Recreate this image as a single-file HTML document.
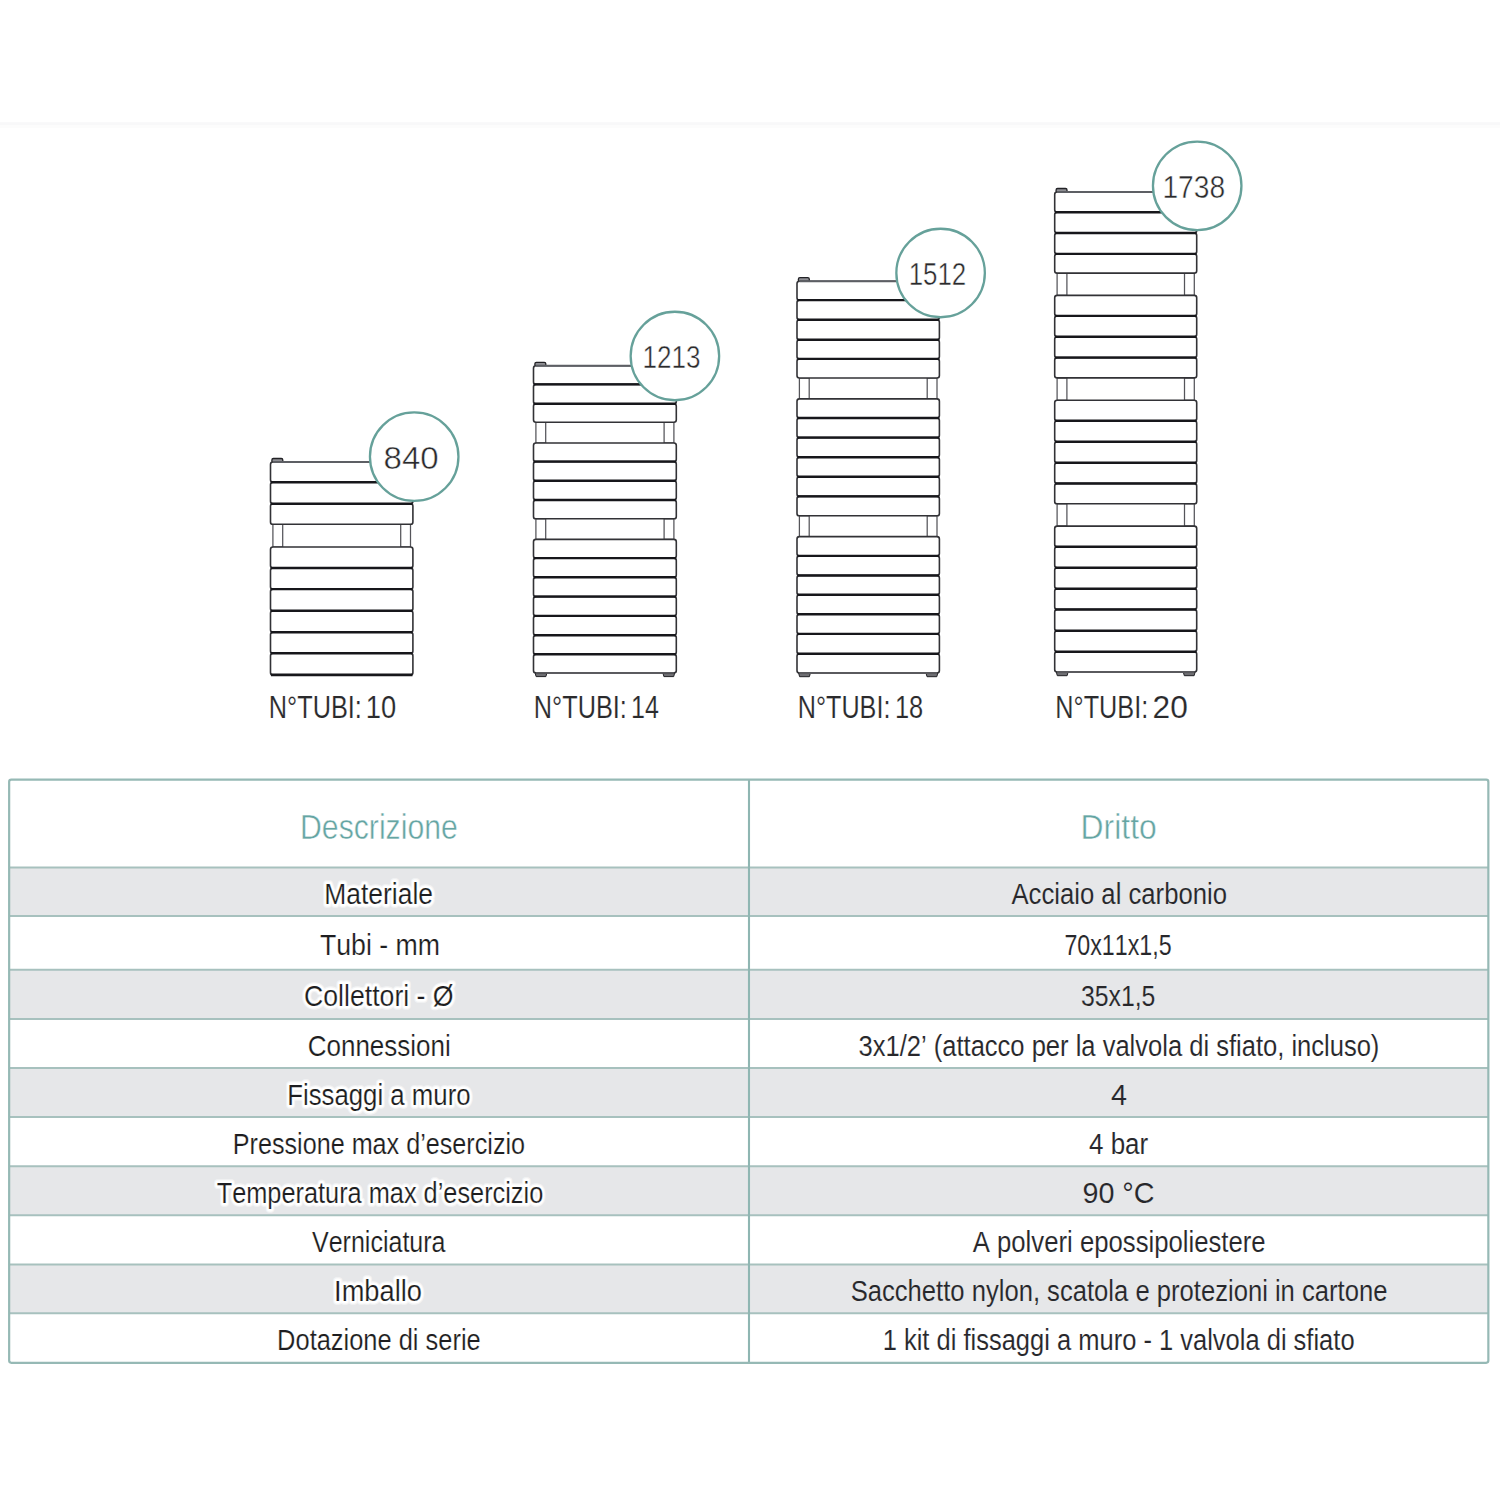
<!DOCTYPE html>
<html lang="it"><head><meta charset="utf-8"><title>Scheda tecnica</title>
<style>html,body{margin:0;padding:0;background:#fff;}body{width:1500px;height:1500px;overflow:hidden;font-family:"Liberation Sans",sans-serif;}svg{display:block;}text{font-family:"Liberation Sans",sans-serif;font-kerning:none;}</style>
</head><body>
<svg width="1500" height="1500" viewBox="0 0 1500 1500">
<rect x="0" y="0" width="1500" height="1500" fill="#ffffff"/>
<rect x="0" y="122.2" width="1500" height="3" fill="#f8f8f9"/>
<rect x="0" y="125.2" width="1500" height="3" fill="#fcfcfc"/>
<rect x="271.9" y="458.5" width="10.9" height="4.2" rx="1.5" fill="#8f8f94" stroke="#222226" stroke-width="1.3"/>
<rect x="272.90" y="524.30" width="9.80" height="22.70" fill="#fff" stroke="#55555a" stroke-width="1.25"/>
<rect x="400.70" y="524.30" width="9.80" height="22.70" fill="#fff" stroke="#55555a" stroke-width="1.25"/>
<rect x="270.50" y="462.00" width="142.40" height="20.20" rx="2.4" fill="#fff" stroke="#323236" stroke-width="1.6"/>
<rect x="270.50" y="482.20" width="142.40" height="21.50" rx="2.4" fill="#fff" stroke="#323236" stroke-width="1.6"/>
<rect x="270.50" y="503.70" width="142.40" height="20.60" rx="2.4" fill="#fff" stroke="#323236" stroke-width="1.6"/>
<line x1="270.90" x2="412.50" y1="482.20" y2="482.20" stroke="#17171b" stroke-width="2.4"/>
<line x1="270.90" x2="412.50" y1="503.70" y2="503.70" stroke="#17171b" stroke-width="2.4"/>
<line x1="272.90" x2="410.50" y1="462.00" y2="462.00" stroke="#5d5f64" stroke-width="2"/>
<rect x="270.50" y="547.00" width="142.40" height="21.00" rx="2.4" fill="#fff" stroke="#323236" stroke-width="1.6"/>
<rect x="270.50" y="568.00" width="142.40" height="21.10" rx="2.4" fill="#fff" stroke="#323236" stroke-width="1.6"/>
<rect x="270.50" y="589.10" width="142.40" height="21.70" rx="2.4" fill="#fff" stroke="#323236" stroke-width="1.6"/>
<rect x="270.50" y="610.80" width="142.40" height="21.40" rx="2.4" fill="#fff" stroke="#323236" stroke-width="1.6"/>
<rect x="270.50" y="632.20" width="142.40" height="21.10" rx="2.4" fill="#fff" stroke="#323236" stroke-width="1.6"/>
<rect x="270.50" y="653.30" width="142.40" height="21.60" rx="2.4" fill="#fff" stroke="#323236" stroke-width="1.6"/>
<line x1="270.90" x2="412.50" y1="568.00" y2="568.00" stroke="#17171b" stroke-width="2.4"/>
<line x1="270.90" x2="412.50" y1="589.10" y2="589.10" stroke="#17171b" stroke-width="2.4"/>
<line x1="270.90" x2="412.50" y1="610.80" y2="610.80" stroke="#17171b" stroke-width="2.4"/>
<line x1="270.90" x2="412.50" y1="632.20" y2="632.20" stroke="#17171b" stroke-width="2.4"/>
<line x1="270.90" x2="412.50" y1="653.30" y2="653.30" stroke="#17171b" stroke-width="2.4"/>
<line x1="270.90" x2="412.50" y1="674.90" y2="674.90" stroke="#17171b" stroke-width="2.7"/>
<circle cx="414.2" cy="456.7" r="44.25" fill="#fff" stroke="#66a19a" stroke-width="2.3"/>
<rect x="534.9" y="362.3" width="10.9" height="4.2" rx="1.5" fill="#8f8f94" stroke="#222226" stroke-width="1.3"/>
<rect x="535.90" y="422.20" width="9.80" height="20.80" fill="#fff" stroke="#55555a" stroke-width="1.25"/>
<rect x="664.10" y="422.20" width="9.80" height="20.80" fill="#fff" stroke="#55555a" stroke-width="1.25"/>
<rect x="535.90" y="518.80" width="9.80" height="20.60" fill="#fff" stroke="#55555a" stroke-width="1.25"/>
<rect x="664.10" y="518.80" width="9.80" height="20.60" fill="#fff" stroke="#55555a" stroke-width="1.25"/>
<path d="M535.1 672.9 h11.8 l-1 3.7 h-9.8 z" fill="#6e6e72" stroke="#222226" stroke-width="1"/>
<path d="M662.9 672.9 h11.8 l-1 3.7 h-9.8 z" fill="#6e6e72" stroke="#222226" stroke-width="1"/>
<rect x="533.50" y="365.80" width="142.80" height="18.60" rx="2.4" fill="#fff" stroke="#323236" stroke-width="1.6"/>
<rect x="533.50" y="384.40" width="142.80" height="19.40" rx="2.4" fill="#fff" stroke="#323236" stroke-width="1.6"/>
<rect x="533.50" y="403.80" width="142.80" height="18.40" rx="2.4" fill="#fff" stroke="#323236" stroke-width="1.6"/>
<line x1="533.90" x2="675.90" y1="384.40" y2="384.40" stroke="#17171b" stroke-width="2.4"/>
<line x1="533.90" x2="675.90" y1="403.80" y2="403.80" stroke="#17171b" stroke-width="2.4"/>
<line x1="535.90" x2="673.90" y1="365.80" y2="365.80" stroke="#5d5f64" stroke-width="2"/>
<rect x="533.50" y="443.00" width="142.80" height="18.60" rx="2.4" fill="#fff" stroke="#323236" stroke-width="1.6"/>
<rect x="533.50" y="461.60" width="142.80" height="19.20" rx="2.4" fill="#fff" stroke="#323236" stroke-width="1.6"/>
<rect x="533.50" y="480.80" width="142.80" height="19.20" rx="2.4" fill="#fff" stroke="#323236" stroke-width="1.6"/>
<rect x="533.50" y="500.00" width="142.80" height="18.80" rx="2.4" fill="#fff" stroke="#323236" stroke-width="1.6"/>
<line x1="533.90" x2="675.90" y1="461.60" y2="461.60" stroke="#17171b" stroke-width="2.4"/>
<line x1="533.90" x2="675.90" y1="480.80" y2="480.80" stroke="#17171b" stroke-width="2.4"/>
<line x1="533.90" x2="675.90" y1="500.00" y2="500.00" stroke="#17171b" stroke-width="2.4"/>
<rect x="533.50" y="539.40" width="142.80" height="18.70" rx="2.4" fill="#fff" stroke="#323236" stroke-width="1.6"/>
<rect x="533.50" y="558.10" width="142.80" height="19.20" rx="2.4" fill="#fff" stroke="#323236" stroke-width="1.6"/>
<rect x="533.50" y="577.30" width="142.80" height="19.30" rx="2.4" fill="#fff" stroke="#323236" stroke-width="1.6"/>
<rect x="533.50" y="596.60" width="142.80" height="19.30" rx="2.4" fill="#fff" stroke="#323236" stroke-width="1.6"/>
<rect x="533.50" y="615.90" width="142.80" height="19.30" rx="2.4" fill="#fff" stroke="#323236" stroke-width="1.6"/>
<rect x="533.50" y="635.20" width="142.80" height="19.10" rx="2.4" fill="#fff" stroke="#323236" stroke-width="1.6"/>
<rect x="533.50" y="654.30" width="142.80" height="18.60" rx="2.4" fill="#fff" stroke="#323236" stroke-width="1.6"/>
<line x1="533.90" x2="675.90" y1="558.10" y2="558.10" stroke="#17171b" stroke-width="2.4"/>
<line x1="533.90" x2="675.90" y1="577.30" y2="577.30" stroke="#17171b" stroke-width="2.4"/>
<line x1="533.90" x2="675.90" y1="596.60" y2="596.60" stroke="#17171b" stroke-width="2.4"/>
<line x1="533.90" x2="675.90" y1="615.90" y2="615.90" stroke="#17171b" stroke-width="2.4"/>
<line x1="533.90" x2="675.90" y1="635.20" y2="635.20" stroke="#17171b" stroke-width="2.4"/>
<line x1="533.90" x2="675.90" y1="654.30" y2="654.30" stroke="#17171b" stroke-width="2.4"/>
<line x1="535.90" x2="673.90" y1="672.90" y2="672.90" stroke="#5a5a5e" stroke-width="1.8"/>
<circle cx="674.9" cy="356.0" r="44.25" fill="#fff" stroke="#66a19a" stroke-width="2.3"/>
<rect x="798.4" y="277.7" width="10.9" height="4.2" rx="1.5" fill="#8f8f94" stroke="#222226" stroke-width="1.3"/>
<rect x="799.40" y="378.00" width="9.80" height="20.90" fill="#fff" stroke="#55555a" stroke-width="1.25"/>
<rect x="927.20" y="378.00" width="9.80" height="20.90" fill="#fff" stroke="#55555a" stroke-width="1.25"/>
<rect x="799.40" y="515.80" width="9.80" height="20.80" fill="#fff" stroke="#55555a" stroke-width="1.25"/>
<rect x="927.20" y="515.80" width="9.80" height="20.80" fill="#fff" stroke="#55555a" stroke-width="1.25"/>
<path d="M798.6 673.0 h11.8 l-1 3.7 h-9.8 z" fill="#6e6e72" stroke="#222226" stroke-width="1"/>
<path d="M926.0 673.0 h11.8 l-1 3.7 h-9.8 z" fill="#6e6e72" stroke="#222226" stroke-width="1"/>
<rect x="797.00" y="281.20" width="142.40" height="18.90" rx="2.4" fill="#fff" stroke="#323236" stroke-width="1.6"/>
<rect x="797.00" y="300.10" width="142.40" height="19.60" rx="2.4" fill="#fff" stroke="#323236" stroke-width="1.6"/>
<rect x="797.00" y="319.70" width="142.40" height="20.10" rx="2.4" fill="#fff" stroke="#323236" stroke-width="1.6"/>
<rect x="797.00" y="339.80" width="142.40" height="19.10" rx="2.4" fill="#fff" stroke="#323236" stroke-width="1.6"/>
<rect x="797.00" y="358.90" width="142.40" height="19.10" rx="2.4" fill="#fff" stroke="#323236" stroke-width="1.6"/>
<line x1="797.40" x2="939.00" y1="300.10" y2="300.10" stroke="#17171b" stroke-width="2.4"/>
<line x1="797.40" x2="939.00" y1="319.70" y2="319.70" stroke="#17171b" stroke-width="2.4"/>
<line x1="797.40" x2="939.00" y1="339.80" y2="339.80" stroke="#17171b" stroke-width="2.4"/>
<line x1="797.40" x2="939.00" y1="358.90" y2="358.90" stroke="#17171b" stroke-width="2.4"/>
<line x1="799.40" x2="937.00" y1="281.20" y2="281.20" stroke="#5d5f64" stroke-width="2"/>
<rect x="797.00" y="398.90" width="142.40" height="19.10" rx="2.4" fill="#fff" stroke="#323236" stroke-width="1.6"/>
<rect x="797.00" y="418.00" width="142.40" height="19.60" rx="2.4" fill="#fff" stroke="#323236" stroke-width="1.6"/>
<rect x="797.00" y="437.60" width="142.40" height="19.60" rx="2.4" fill="#fff" stroke="#323236" stroke-width="1.6"/>
<rect x="797.00" y="457.20" width="142.40" height="19.60" rx="2.4" fill="#fff" stroke="#323236" stroke-width="1.6"/>
<rect x="797.00" y="476.80" width="142.40" height="19.60" rx="2.4" fill="#fff" stroke="#323236" stroke-width="1.6"/>
<rect x="797.00" y="496.40" width="142.40" height="19.40" rx="2.4" fill="#fff" stroke="#323236" stroke-width="1.6"/>
<line x1="797.40" x2="939.00" y1="418.00" y2="418.00" stroke="#17171b" stroke-width="2.4"/>
<line x1="797.40" x2="939.00" y1="437.60" y2="437.60" stroke="#17171b" stroke-width="2.4"/>
<line x1="797.40" x2="939.00" y1="457.20" y2="457.20" stroke="#17171b" stroke-width="2.4"/>
<line x1="797.40" x2="939.00" y1="476.80" y2="476.80" stroke="#17171b" stroke-width="2.4"/>
<line x1="797.40" x2="939.00" y1="496.40" y2="496.40" stroke="#17171b" stroke-width="2.4"/>
<rect x="797.00" y="536.60" width="142.40" height="19.30" rx="2.4" fill="#fff" stroke="#323236" stroke-width="1.6"/>
<rect x="797.00" y="555.90" width="142.40" height="19.60" rx="2.4" fill="#fff" stroke="#323236" stroke-width="1.6"/>
<rect x="797.00" y="575.50" width="142.40" height="19.30" rx="2.4" fill="#fff" stroke="#323236" stroke-width="1.6"/>
<rect x="797.00" y="594.80" width="142.40" height="19.50" rx="2.4" fill="#fff" stroke="#323236" stroke-width="1.6"/>
<rect x="797.00" y="614.30" width="142.40" height="19.60" rx="2.4" fill="#fff" stroke="#323236" stroke-width="1.6"/>
<rect x="797.00" y="633.90" width="142.40" height="19.90" rx="2.4" fill="#fff" stroke="#323236" stroke-width="1.6"/>
<rect x="797.00" y="653.80" width="142.40" height="19.20" rx="2.4" fill="#fff" stroke="#323236" stroke-width="1.6"/>
<line x1="797.40" x2="939.00" y1="555.90" y2="555.90" stroke="#17171b" stroke-width="2.4"/>
<line x1="797.40" x2="939.00" y1="575.50" y2="575.50" stroke="#17171b" stroke-width="2.4"/>
<line x1="797.40" x2="939.00" y1="594.80" y2="594.80" stroke="#17171b" stroke-width="2.4"/>
<line x1="797.40" x2="939.00" y1="614.30" y2="614.30" stroke="#17171b" stroke-width="2.4"/>
<line x1="797.40" x2="939.00" y1="633.90" y2="633.90" stroke="#17171b" stroke-width="2.4"/>
<line x1="797.40" x2="939.00" y1="653.80" y2="653.80" stroke="#17171b" stroke-width="2.4"/>
<line x1="799.40" x2="937.00" y1="673.00" y2="673.00" stroke="#5a5a5e" stroke-width="1.8"/>
<circle cx="940.6" cy="273.0" r="44.25" fill="#fff" stroke="#66a19a" stroke-width="2.3"/>
<rect x="1056.1" y="188.5" width="10.9" height="4.2" rx="1.5" fill="#8f8f94" stroke="#222226" stroke-width="1.3"/>
<rect x="1057.10" y="273.10" width="9.80" height="22.30" fill="#fff" stroke="#55555a" stroke-width="1.25"/>
<rect x="1184.50" y="273.10" width="9.80" height="22.30" fill="#fff" stroke="#55555a" stroke-width="1.25"/>
<rect x="1057.10" y="377.90" width="9.80" height="22.40" fill="#fff" stroke="#55555a" stroke-width="1.25"/>
<rect x="1184.50" y="377.90" width="9.80" height="22.40" fill="#fff" stroke="#55555a" stroke-width="1.25"/>
<rect x="1057.10" y="503.80" width="9.80" height="22.30" fill="#fff" stroke="#55555a" stroke-width="1.25"/>
<rect x="1184.50" y="503.80" width="9.80" height="22.30" fill="#fff" stroke="#55555a" stroke-width="1.25"/>
<path d="M1056.3 672.0 h11.8 l-1 3.7 h-9.8 z" fill="#6e6e72" stroke="#222226" stroke-width="1"/>
<path d="M1183.3 672.0 h11.8 l-1 3.7 h-9.8 z" fill="#6e6e72" stroke="#222226" stroke-width="1"/>
<rect x="1054.70" y="192.00" width="142.00" height="20.20" rx="2.4" fill="#fff" stroke="#323236" stroke-width="1.6"/>
<rect x="1054.70" y="212.20" width="142.00" height="20.80" rx="2.4" fill="#fff" stroke="#323236" stroke-width="1.6"/>
<rect x="1054.70" y="233.00" width="142.00" height="20.90" rx="2.4" fill="#fff" stroke="#323236" stroke-width="1.6"/>
<rect x="1054.70" y="253.90" width="142.00" height="19.20" rx="2.4" fill="#fff" stroke="#323236" stroke-width="1.6"/>
<line x1="1055.10" x2="1196.30" y1="212.20" y2="212.20" stroke="#17171b" stroke-width="2.4"/>
<line x1="1055.10" x2="1196.30" y1="233.00" y2="233.00" stroke="#17171b" stroke-width="2.4"/>
<line x1="1055.10" x2="1196.30" y1="253.90" y2="253.90" stroke="#17171b" stroke-width="2.4"/>
<line x1="1057.10" x2="1194.30" y1="192.00" y2="192.00" stroke="#5d5f64" stroke-width="2"/>
<rect x="1054.70" y="295.40" width="142.00" height="20.50" rx="2.4" fill="#fff" stroke="#323236" stroke-width="1.6"/>
<rect x="1054.70" y="315.90" width="142.00" height="20.80" rx="2.4" fill="#fff" stroke="#323236" stroke-width="1.6"/>
<rect x="1054.70" y="336.70" width="142.00" height="20.90" rx="2.4" fill="#fff" stroke="#323236" stroke-width="1.6"/>
<rect x="1054.70" y="357.60" width="142.00" height="20.30" rx="2.4" fill="#fff" stroke="#323236" stroke-width="1.6"/>
<line x1="1055.10" x2="1196.30" y1="315.90" y2="315.90" stroke="#17171b" stroke-width="2.4"/>
<line x1="1055.10" x2="1196.30" y1="336.70" y2="336.70" stroke="#17171b" stroke-width="2.4"/>
<line x1="1055.10" x2="1196.30" y1="357.60" y2="357.60" stroke="#17171b" stroke-width="2.4"/>
<rect x="1054.70" y="400.30" width="142.00" height="20.50" rx="2.4" fill="#fff" stroke="#323236" stroke-width="1.6"/>
<rect x="1054.70" y="420.80" width="142.00" height="20.90" rx="2.4" fill="#fff" stroke="#323236" stroke-width="1.6"/>
<rect x="1054.70" y="441.70" width="142.00" height="21.10" rx="2.4" fill="#fff" stroke="#323236" stroke-width="1.6"/>
<rect x="1054.70" y="462.80" width="142.00" height="20.70" rx="2.4" fill="#fff" stroke="#323236" stroke-width="1.6"/>
<rect x="1054.70" y="483.50" width="142.00" height="20.30" rx="2.4" fill="#fff" stroke="#323236" stroke-width="1.6"/>
<line x1="1055.10" x2="1196.30" y1="420.80" y2="420.80" stroke="#17171b" stroke-width="2.4"/>
<line x1="1055.10" x2="1196.30" y1="441.70" y2="441.70" stroke="#17171b" stroke-width="2.4"/>
<line x1="1055.10" x2="1196.30" y1="462.80" y2="462.80" stroke="#17171b" stroke-width="2.4"/>
<line x1="1055.10" x2="1196.30" y1="483.50" y2="483.50" stroke="#17171b" stroke-width="2.4"/>
<rect x="1054.70" y="526.10" width="142.00" height="20.70" rx="2.4" fill="#fff" stroke="#323236" stroke-width="1.6"/>
<rect x="1054.70" y="546.80" width="142.00" height="20.90" rx="2.4" fill="#fff" stroke="#323236" stroke-width="1.6"/>
<rect x="1054.70" y="567.70" width="142.00" height="21.00" rx="2.4" fill="#fff" stroke="#323236" stroke-width="1.6"/>
<rect x="1054.70" y="588.70" width="142.00" height="20.80" rx="2.4" fill="#fff" stroke="#323236" stroke-width="1.6"/>
<rect x="1054.70" y="609.50" width="142.00" height="21.30" rx="2.4" fill="#fff" stroke="#323236" stroke-width="1.6"/>
<rect x="1054.70" y="630.80" width="142.00" height="20.90" rx="2.4" fill="#fff" stroke="#323236" stroke-width="1.6"/>
<rect x="1054.70" y="651.70" width="142.00" height="20.30" rx="2.4" fill="#fff" stroke="#323236" stroke-width="1.6"/>
<line x1="1055.10" x2="1196.30" y1="546.80" y2="546.80" stroke="#17171b" stroke-width="2.4"/>
<line x1="1055.10" x2="1196.30" y1="567.70" y2="567.70" stroke="#17171b" stroke-width="2.4"/>
<line x1="1055.10" x2="1196.30" y1="588.70" y2="588.70" stroke="#17171b" stroke-width="2.4"/>
<line x1="1055.10" x2="1196.30" y1="609.50" y2="609.50" stroke="#17171b" stroke-width="2.4"/>
<line x1="1055.10" x2="1196.30" y1="630.80" y2="630.80" stroke="#17171b" stroke-width="2.4"/>
<line x1="1055.10" x2="1196.30" y1="651.70" y2="651.70" stroke="#17171b" stroke-width="2.4"/>
<line x1="1057.10" x2="1194.30" y1="672.00" y2="672.00" stroke="#5a5a5e" stroke-width="1.8"/>
<circle cx="1197.2" cy="185.8" r="44.25" fill="#fff" stroke="#66a19a" stroke-width="2.3"/>
<text x="383.56" y="469.00" font-size="30.5" textLength="55.13" lengthAdjust="spacingAndGlyphs" fill="#2a2a2c" stroke="#ffffff" stroke-width="0.45">840</text>
<text x="642.62" y="368.00" font-size="30.5" textLength="57.93" lengthAdjust="spacingAndGlyphs" fill="#2a2a2c" stroke="#ffffff" stroke-width="0.45">1213</text>
<text x="908.63" y="285.00" font-size="30.5" textLength="57.57" lengthAdjust="spacingAndGlyphs" fill="#2a2a2c" stroke="#ffffff" stroke-width="0.45">1512</text>
<text x="1162.45" y="198.00" font-size="30.5" textLength="62.67" lengthAdjust="spacingAndGlyphs" fill="#2a2a2c" stroke="#ffffff" stroke-width="0.45">1738</text>
<text x="268.82" y="718.20" font-size="31" textLength="93.09" lengthAdjust="spacingAndGlyphs" fill="#2a2a2c" stroke="#ffffff" stroke-width="0.15">N°TUBI:</text>
<text x="365.82" y="718.20" font-size="31" textLength="30.34" lengthAdjust="spacingAndGlyphs" fill="#2a2a2c" stroke="#ffffff" stroke-width="0.15">10</text>
<text x="533.82" y="718.20" font-size="31" textLength="93.09" lengthAdjust="spacingAndGlyphs" fill="#2a2a2c" stroke="#ffffff" stroke-width="0.15">N°TUBI:</text>
<text x="630.99" y="718.20" font-size="31" textLength="27.84" lengthAdjust="spacingAndGlyphs" fill="#2a2a2c" stroke="#ffffff" stroke-width="0.15">14</text>
<text x="797.84" y="718.20" font-size="31" textLength="92.56" lengthAdjust="spacingAndGlyphs" fill="#2a2a2c" stroke="#ffffff" stroke-width="0.15">N°TUBI:</text>
<text x="894.97" y="718.20" font-size="31" textLength="28.24" lengthAdjust="spacingAndGlyphs" fill="#2a2a2c" stroke="#ffffff" stroke-width="0.15">18</text>
<text x="1055.33" y="718.20" font-size="31" textLength="92.88" lengthAdjust="spacingAndGlyphs" fill="#2a2a2c" stroke="#ffffff" stroke-width="0.15">N°TUBI:</text>
<text x="1152.61" y="718.20" font-size="31" textLength="35.23" lengthAdjust="spacingAndGlyphs" fill="#2a2a2c" stroke="#ffffff" stroke-width="0.15">20</text>
<rect x="9.15" y="867.4" width="1479.1999999999998" height="48.6" fill="#e6e7e9"/>
<rect x="9.15" y="969.8" width="1479.1999999999998" height="49.2" fill="#e6e7e9"/>
<rect x="9.15" y="1068.0" width="1479.1999999999998" height="49.1" fill="#e6e7e9"/>
<rect x="9.15" y="1166.3" width="1479.1999999999998" height="48.9" fill="#e6e7e9"/>
<rect x="9.15" y="1264.6" width="1479.1999999999998" height="48.6" fill="#e6e7e9"/>
<line x1="9.15" x2="1488.35" y1="867.4" y2="867.4" stroke="#a7c1be" stroke-width="2"/>
<line x1="9.15" x2="1488.35" y1="916.0" y2="916.0" stroke="#a7c1be" stroke-width="2"/>
<line x1="9.15" x2="1488.35" y1="969.8" y2="969.8" stroke="#a7c1be" stroke-width="2"/>
<line x1="9.15" x2="1488.35" y1="1019.0" y2="1019.0" stroke="#a7c1be" stroke-width="2"/>
<line x1="9.15" x2="1488.35" y1="1068.0" y2="1068.0" stroke="#a7c1be" stroke-width="2"/>
<line x1="9.15" x2="1488.35" y1="1117.1" y2="1117.1" stroke="#a7c1be" stroke-width="2"/>
<line x1="9.15" x2="1488.35" y1="1166.3" y2="1166.3" stroke="#a7c1be" stroke-width="2"/>
<line x1="9.15" x2="1488.35" y1="1215.2" y2="1215.2" stroke="#a7c1be" stroke-width="2"/>
<line x1="9.15" x2="1488.35" y1="1264.6" y2="1264.6" stroke="#a7c1be" stroke-width="2"/>
<line x1="9.15" x2="1488.35" y1="1313.2" y2="1313.2" stroke="#a7c1be" stroke-width="2"/>
<line x1="749.0" x2="749.0" y1="779.7" y2="1362.8" stroke="#8fb6b2" stroke-width="2.1"/>
<rect x="9.15" y="779.7" width="1479.20" height="583.1" rx="2.2" fill="none" stroke="#96b9b5" stroke-width="2.2"/>
<text x="300.02" y="838.90" font-size="35.2" textLength="157.82" lengthAdjust="spacingAndGlyphs" fill="#65a5a3" stroke="#ffffff" stroke-width="0.5">Descrizione</text>
<text x="1080.59" y="838.90" font-size="35.2" textLength="76.15" lengthAdjust="spacingAndGlyphs" fill="#65a5a3" stroke="#ffffff" stroke-width="0.5">Dritto</text>
<text x="324.33" y="903.70" font-size="30.3" textLength="108.64" lengthAdjust="spacingAndGlyphs" fill="#fff" stroke="#ffffff" stroke-width="7.5" stroke-opacity="0.55" stroke-linejoin="round">Materiale</text>
<text x="324.33" y="903.70" font-size="30.3" textLength="108.64" lengthAdjust="spacingAndGlyphs" fill="#fff" stroke="#ffffff" stroke-width="5" stroke-opacity="1" stroke-linejoin="round">Materiale</text>
<text x="324.33" y="903.70" font-size="30.3" textLength="108.64" lengthAdjust="spacingAndGlyphs" fill="#1d1d20" stroke="#ffffff" stroke-width="0.2">Materiale</text>
<text x="1011.45" y="903.70" font-size="30.0" textLength="215.53" lengthAdjust="spacingAndGlyphs" fill="#27272b" stroke="#e6e7e9" stroke-width="0.12">Acciaio al carbonio</text>
<text x="319.90" y="954.90" font-size="30.3" textLength="120.16" lengthAdjust="spacingAndGlyphs" fill="#1d1d20" stroke="#ffffff" stroke-width="0.2">Tubi - mm</text>
<text x="1064.41" y="954.90" font-size="30.0" textLength="107.17" lengthAdjust="spacingAndGlyphs" fill="#27272b" stroke="#ffffff" stroke-width="0.12">70x11x1,5</text>
<text x="304.05" y="1006.40" font-size="30.3" textLength="149.55" lengthAdjust="spacingAndGlyphs" fill="#fff" stroke="#ffffff" stroke-width="7.5" stroke-opacity="0.55" stroke-linejoin="round">Collettori - Ø</text>
<text x="304.05" y="1006.40" font-size="30.3" textLength="149.55" lengthAdjust="spacingAndGlyphs" fill="#fff" stroke="#ffffff" stroke-width="5" stroke-opacity="1" stroke-linejoin="round">Collettori - Ø</text>
<text x="304.05" y="1006.40" font-size="30.3" textLength="149.55" lengthAdjust="spacingAndGlyphs" fill="#1d1d20" stroke="#ffffff" stroke-width="0.2">Collettori - Ø</text>
<text x="1080.96" y="1006.40" font-size="30.0" textLength="74.38" lengthAdjust="spacingAndGlyphs" fill="#27272b" stroke="#e6e7e9" stroke-width="0.12">35x1,5</text>
<text x="307.68" y="1055.50" font-size="30.3" textLength="143.17" lengthAdjust="spacingAndGlyphs" fill="#1d1d20" stroke="#ffffff" stroke-width="0.2">Connessioni</text>
<text x="858.53" y="1055.50" font-size="30.0" textLength="520.86" lengthAdjust="spacingAndGlyphs" fill="#27272b" stroke="#ffffff" stroke-width="0.12">3x1/2’ (attacco per la valvola di sfiato, incluso)</text>
<text x="287.19" y="1104.55" font-size="30.3" textLength="183.40" lengthAdjust="spacingAndGlyphs" fill="#fff" stroke="#ffffff" stroke-width="7.5" stroke-opacity="0.55" stroke-linejoin="round">Fissaggi a muro</text>
<text x="287.19" y="1104.55" font-size="30.3" textLength="183.40" lengthAdjust="spacingAndGlyphs" fill="#fff" stroke="#ffffff" stroke-width="5" stroke-opacity="1" stroke-linejoin="round">Fissaggi a muro</text>
<text x="287.19" y="1104.55" font-size="30.3" textLength="183.40" lengthAdjust="spacingAndGlyphs" fill="#1d1d20" stroke="#ffffff" stroke-width="0.2">Fissaggi a muro</text>
<text x="1110.94" y="1104.55" font-size="30.0" textLength="16.00" lengthAdjust="spacingAndGlyphs" fill="#27272b" stroke="#e6e7e9" stroke-width="0.12">4</text>
<text x="232.74" y="1153.70" font-size="30.3" textLength="292.32" lengthAdjust="spacingAndGlyphs" fill="#1d1d20" stroke="#ffffff" stroke-width="0.2">Pressione max d’esercizio</text>
<text x="1089.00" y="1153.70" font-size="30.0" textLength="59.23" lengthAdjust="spacingAndGlyphs" fill="#27272b" stroke="#ffffff" stroke-width="0.12">4 bar</text>
<text x="216.73" y="1202.75" font-size="30.3" textLength="326.53" lengthAdjust="spacingAndGlyphs" fill="#fff" stroke="#ffffff" stroke-width="7.5" stroke-opacity="0.55" stroke-linejoin="round">Temperatura max d’esercizio</text>
<text x="216.73" y="1202.75" font-size="30.3" textLength="326.53" lengthAdjust="spacingAndGlyphs" fill="#fff" stroke="#ffffff" stroke-width="5" stroke-opacity="1" stroke-linejoin="round">Temperatura max d’esercizio</text>
<text x="216.73" y="1202.75" font-size="30.3" textLength="326.53" lengthAdjust="spacingAndGlyphs" fill="#1d1d20" stroke="#ffffff" stroke-width="0.2">Temperatura max d’esercizio</text>
<text x="1082.45" y="1202.75" font-size="30.0" textLength="72.14" lengthAdjust="spacingAndGlyphs" fill="#27272b" stroke="#e6e7e9" stroke-width="0.12">90 °C</text>
<text x="311.99" y="1251.90" font-size="30.3" textLength="133.51" lengthAdjust="spacingAndGlyphs" fill="#1d1d20" stroke="#ffffff" stroke-width="0.2">Verniciatura</text>
<text x="972.75" y="1251.90" font-size="30.0" textLength="292.89" lengthAdjust="spacingAndGlyphs" fill="#27272b" stroke="#ffffff" stroke-width="0.12">A polveri epossipoliestere</text>
<text x="334.08" y="1300.90" font-size="30.3" textLength="87.86" lengthAdjust="spacingAndGlyphs" fill="#fff" stroke="#ffffff" stroke-width="7.5" stroke-opacity="0.55" stroke-linejoin="round">Imballo</text>
<text x="334.08" y="1300.90" font-size="30.3" textLength="87.86" lengthAdjust="spacingAndGlyphs" fill="#fff" stroke="#ffffff" stroke-width="5" stroke-opacity="1" stroke-linejoin="round">Imballo</text>
<text x="334.08" y="1300.90" font-size="30.3" textLength="87.86" lengthAdjust="spacingAndGlyphs" fill="#1d1d20" stroke="#ffffff" stroke-width="0.2">Imballo</text>
<text x="850.64" y="1300.90" font-size="30.0" textLength="536.80" lengthAdjust="spacingAndGlyphs" fill="#27272b" stroke="#e6e7e9" stroke-width="0.12">Sacchetto nylon, scatola e protezioni in cartone</text>
<text x="277.11" y="1350.00" font-size="30.3" textLength="203.62" lengthAdjust="spacingAndGlyphs" fill="#1d1d20" stroke="#ffffff" stroke-width="0.2">Dotazione di serie</text>
<text x="882.66" y="1350.00" font-size="30.0" textLength="471.91" lengthAdjust="spacingAndGlyphs" fill="#27272b" stroke="#ffffff" stroke-width="0.12">1 kit di fissaggi a muro - 1 valvola di sfiato</text>
</svg>
</body></html>
